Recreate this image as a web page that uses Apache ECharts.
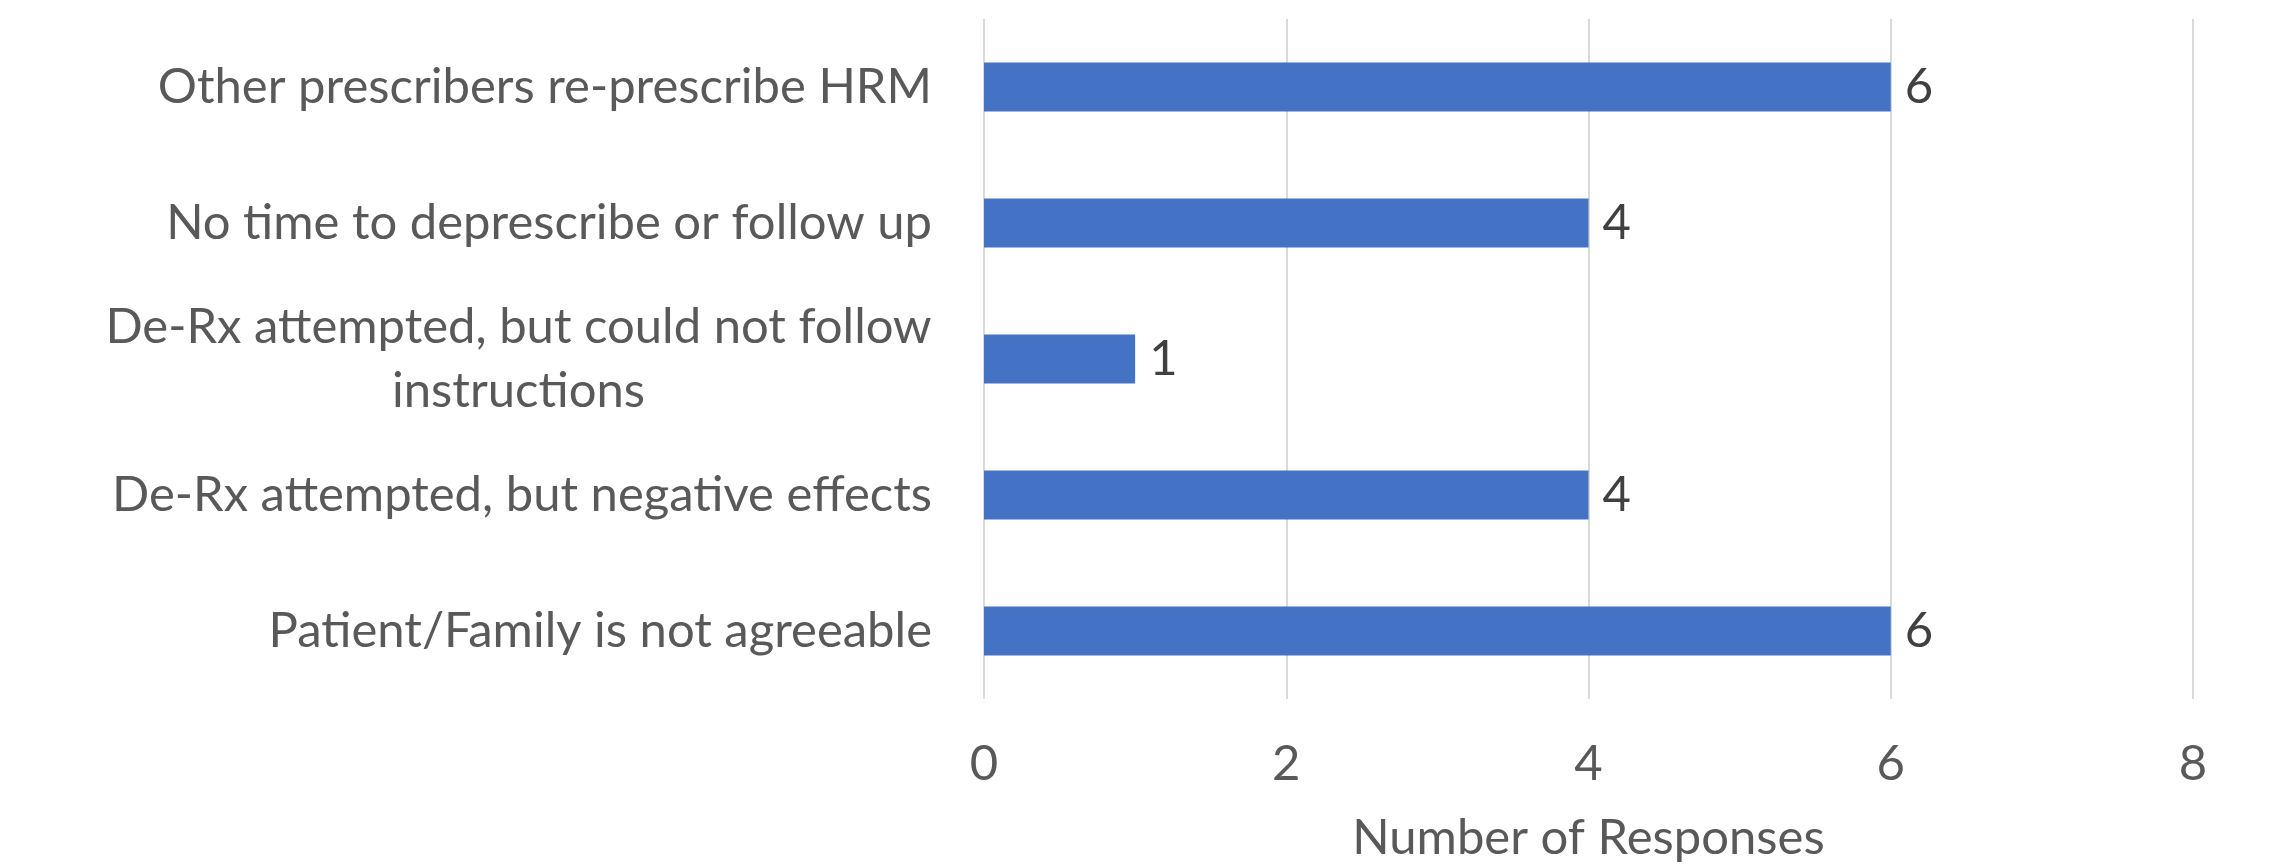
<!DOCTYPE html>
<html>
<head>
<meta charset="utf-8">
<script src="https://cdn.jsdelivr.net/npm/echarts@6/dist/echarts.min.js"></script>
<style>
  html, body { margin: 0; padding: 0; background: #ffffff; }
  #chart { width: 2280px; height: 868px; }
</style>
</head>
<body>
<div id="chart"></div>
<script>
const categories = [
  'Other prescribers re-prescribe HRM',
  'No time to deprescribe or follow up',
  'De-Rx attempted, but could not follow\ninstructions',
  'De-Rx attempted, but negative effects',
  'Patient/Family is not agreeable'
];
const responses = [6, 4, 1, 4, 6];
const xTicks = [0, 2, 4, 6, 8];
const axisTitle = 'Number of Responses';

const FONT = 'Lato';
const FS = 49;
const LH = 64;

const ctx = document.createElement('canvas').getContext('2d');
ctx.font = FS + 'px ' + FONT;
function lineWidth(s) { return Math.ceil(ctx.measureText(s).width); }

const chart = echarts.init(document.getElementById('chart'), null, { renderer: 'canvas' });
chart.setOption({
  backgroundColor: '#ffffff',
  animation: false,
  grid: { left: 984, right: 87, top: 19, bottom: 169, containLabel: false },
  xAxis: {
    type: 'value',
    min: xTicks[0],
    max: xTicks[xTicks.length - 1],
    interval: 2,
    name: axisTitle,
    nameLocation: 'middle',
    nameGap: 115,
    nameTextStyle: { color: '#595959', fontSize: FS, fontFamily: FONT },
    axisLine: { show: false },
    axisTick: { show: false },
    axisLabel: { color: '#595959', fontSize: FS, fontFamily: FONT, margin: 41 },
    splitLine: { show: true, lineStyle: { color: '#d9d9d9', width: 2 } }
  },
  yAxis: {
    type: 'category',
    data: categories,
    inverse: true,
    axisLine: { show: false },
    axisTick: { show: false },
    splitLine: { show: false },
    axisLabel: {
      color: '#595959',
      fontSize: FS,
      fontFamily: FONT,
      margin: 52,
      lineHeight: LH,
      formatter: function (v) {
        const lines = v.split('\n');
        if (lines.length === 1) return v;
        return lines.map(function (l) { return '{c|' + l + '}'; }).join('\n');
      },
      rich: (function () {
        const w = Math.max.apply(null, categories.filter(function (c) { return c.indexOf('\n') >= 0; })
          .map(function (c) { return Math.max.apply(null, c.split('\n').map(lineWidth)); }));
        return { c: { width: w, align: 'center', color: '#595959', fontSize: FS, fontFamily: FONT, lineHeight: LH } };
      })()
    }
  },
  series: [{
    type: 'bar',
    data: responses,
    barWidth: 49,
    itemStyle: { color: '#4472c4' },
    label: {
      show: true,
      position: 'right',
      distance: 14,
      color: '#404040',
      fontSize: FS,
      fontFamily: FONT
    }
  }]
});
</script>
</body>
</html>
